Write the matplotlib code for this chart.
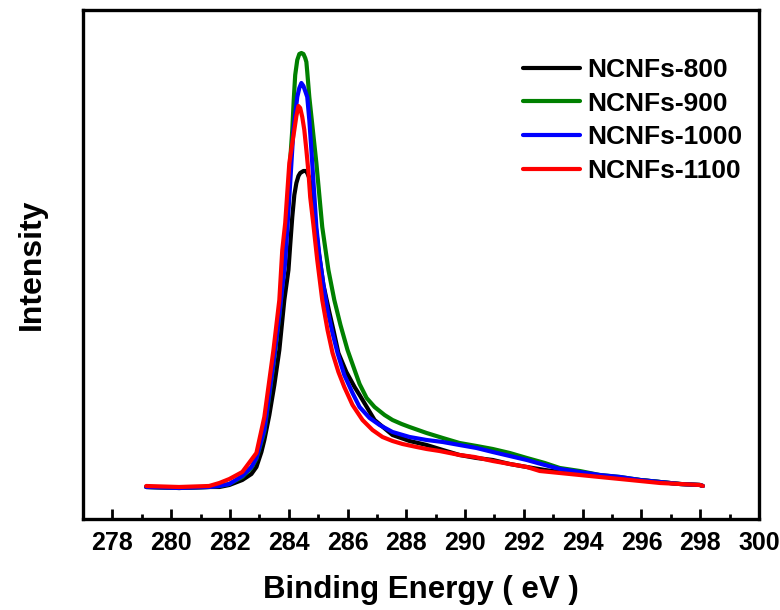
import matplotlib
matplotlib.use("Agg")
import matplotlib.pyplot as plt
from matplotlib.ticker import MultipleLocator

plt.rcParams['font.family'] = ['Liberation Sans', 'DejaVu Sans']
plt.rcParams['font.weight'] = 'bold'

# C 1s XPS spectra (intensity in arbitrary units)
energy_800 = [279.15, 280.27, 281.29, 281.64, 281.98, 282.42, 282.73, 282.90, 283.07, 283.17,
              283.34, 283.51, 283.68, 283.85, 283.99, 284.05, 284.12, 284.19, 284.26, 284.33,
              284.39, 284.50, 284.60, 284.63, 284.70, 284.77, 284.87, 285.01, 285.18, 285.38,
              285.52, 285.69, 285.96, 286.24, 286.41, 286.92, 287.53, 288.11, 288.69, 289.24,
              289.81, 290.39, 290.94, 291.52, 292.10, 292.71, 293.22, 293.90, 294.58, 295.27,
              295.95, 296.63, 297.31, 297.99, 298.09]
intensity_800 = [32, 31, 32, 32, 34, 39, 45, 52, 67, 79,
                 104, 134, 169, 219, 249, 274, 302, 324, 336, 343,
                 346, 348, 348, 346, 341, 329, 304, 269, 234, 207,
                 189, 166, 147, 132, 124, 99, 84, 78, 74, 69,
                 64, 61, 59, 55, 52, 49, 47, 45, 43, 41,
                 39, 37, 35, 34, 33]

energy_900 = [279.15, 280.27, 281.29, 281.64, 281.98, 282.42, 282.73, 282.90, 283.17, 283.48,
              283.68, 283.85, 283.99, 284.05, 284.12, 284.17, 284.22, 284.29, 284.36, 284.43,
              284.50, 284.56, 284.60, 284.63, 284.70, 284.94, 285.14, 285.35, 285.55, 285.76,
              286.00, 286.24, 286.41, 286.65, 286.92, 287.26, 287.53, 287.84, 288.11, 288.69,
              289.24, 289.81, 290.39, 290.94, 291.52, 292.10, 292.71, 293.22, 293.90, 294.58,
              295.27, 295.95, 296.63, 297.31, 297.99, 298.09]
intensity_900 = [32, 31, 32, 33, 35, 42, 51, 60, 87, 154,
                 203, 254, 322, 359, 389, 419, 444, 459, 465, 466,
                 465, 461, 457, 447, 422, 356, 292, 249, 219, 194,
                 169, 149, 135, 121, 112, 104, 99, 95, 92, 86,
                 81, 76, 73, 70, 66, 61, 56, 51, 48, 44,
                 42, 39, 37, 35, 34, 33]

energy_1000 = [279.15, 280.27, 281.29, 281.64, 281.98, 282.42, 282.73, 282.90, 283.17, 283.48,
               283.68, 283.88, 284.02, 284.16, 284.29, 284.36, 284.43, 284.50, 284.56, 284.63,
               284.70, 284.77, 284.87, 284.94, 285.04, 285.18, 285.32, 285.49, 285.66, 285.89,
               286.17, 286.41, 286.75, 287.09, 287.53, 288.11, 288.69, 289.24, 289.81, 290.39,
               290.94, 291.52, 292.10, 292.71, 293.22, 293.90, 294.58, 295.27, 295.95, 296.63,
               297.31, 297.99, 298.09]
intensity_1000 = [32, 31, 32, 33, 35, 43, 52, 61, 89, 156,
                  204, 257, 322, 389, 422, 431, 436, 433, 428, 422,
                  399, 369, 324, 292, 264, 234, 209, 186, 166, 144,
                  126, 112, 101, 94, 87, 82, 79, 77, 74, 71,
                  67, 63, 59, 54, 50, 47, 44, 42, 39, 37,
                  35, 34, 33]

energy_1100 = [279.15, 280.27, 281.29, 281.64, 281.98, 282.42, 282.90, 283.17, 283.48, 283.68,
               283.78, 283.88, 284.02, 284.19, 284.26, 284.33, 284.39, 284.46, 284.53, 284.60,
               284.67, 284.73, 284.84, 284.97, 285.14, 285.32, 285.49, 285.69, 285.89, 286.17,
               286.51, 286.85, 287.19, 287.53, 287.87, 288.35, 288.69, 289.13, 289.47, 289.81,
               290.32, 290.94, 291.52, 292.10, 292.54, 293.22, 293.90, 294.58, 295.27, 295.95,
               296.63, 297.31, 297.99, 298.09]
intensity_1100 = [33, 32, 33, 36, 40, 47, 66, 102, 169, 219,
                  269, 296, 356, 389, 403, 413, 411, 402, 389, 369,
                  347, 322, 294, 259, 219, 189, 166, 147, 132, 114,
                  99, 89, 82, 78, 75, 72, 70, 68, 66, 64,
                  62, 58, 55, 52, 48, 46, 44, 42, 40, 38,
                  36, 35, 34, 33]

labels = ['NCNFs-800', 'NCNFs-900', 'NCNFs-1000', 'NCNFs-1100']
colors = ['black', 'green', 'blue', 'red']
xtick_values = list(range(278, 301, 2))

fig = plt.figure(figsize=(7.8, 6.1), dpi=100)
ax = fig.add_axes([0.1064, 0.1492, 0.8667, 0.8344])

series = [(energy_800, intensity_800), (energy_900, intensity_900),
          (energy_1000, intensity_1000), (energy_1100, intensity_1100)]
for (e, i), lab, c in zip(series, labels, colors):
    ax.plot(e, i, color=c, lw=3.0, label=lab, solid_capstyle='round',
            solid_joinstyle='round')

ax.set_xlim(277, 300)
ax.set_ylim(0, 509)
ax.set_xticks(xtick_values)
ax.xaxis.set_minor_locator(MultipleLocator(1))
ax.set_yticks([])
ax.tick_params(axis='x', which='major', direction='in', length=7, width=2,
               labelsize=18, pad=9, top=False)
ax.tick_params(axis='x', which='minor', direction='in', length=3.5, width=2, top=False)
for lbl in ax.get_xticklabels():
    lbl.set_fontweight('bold')
for sp in ax.spines.values():
    sp.set_linewidth(2.4)

ax.set_xlabel('Binding Energy ( eV )', fontsize=22.5, fontweight='bold', labelpad=14)
ax.set_ylabel('Intensity', fontsize=23, fontweight='bold', labelpad=26)

leg = ax.legend(loc='upper left', bbox_to_anchor=(0.651, 0.906), frameon=False,
                fontsize=19, handlelength=2.15, handletextpad=0.27, labelspacing=0.37,
                borderpad=0, borderaxespad=0)
for t in leg.get_texts():
    t.set_fontweight('bold')

fig.savefig('out.png', dpi=100)
